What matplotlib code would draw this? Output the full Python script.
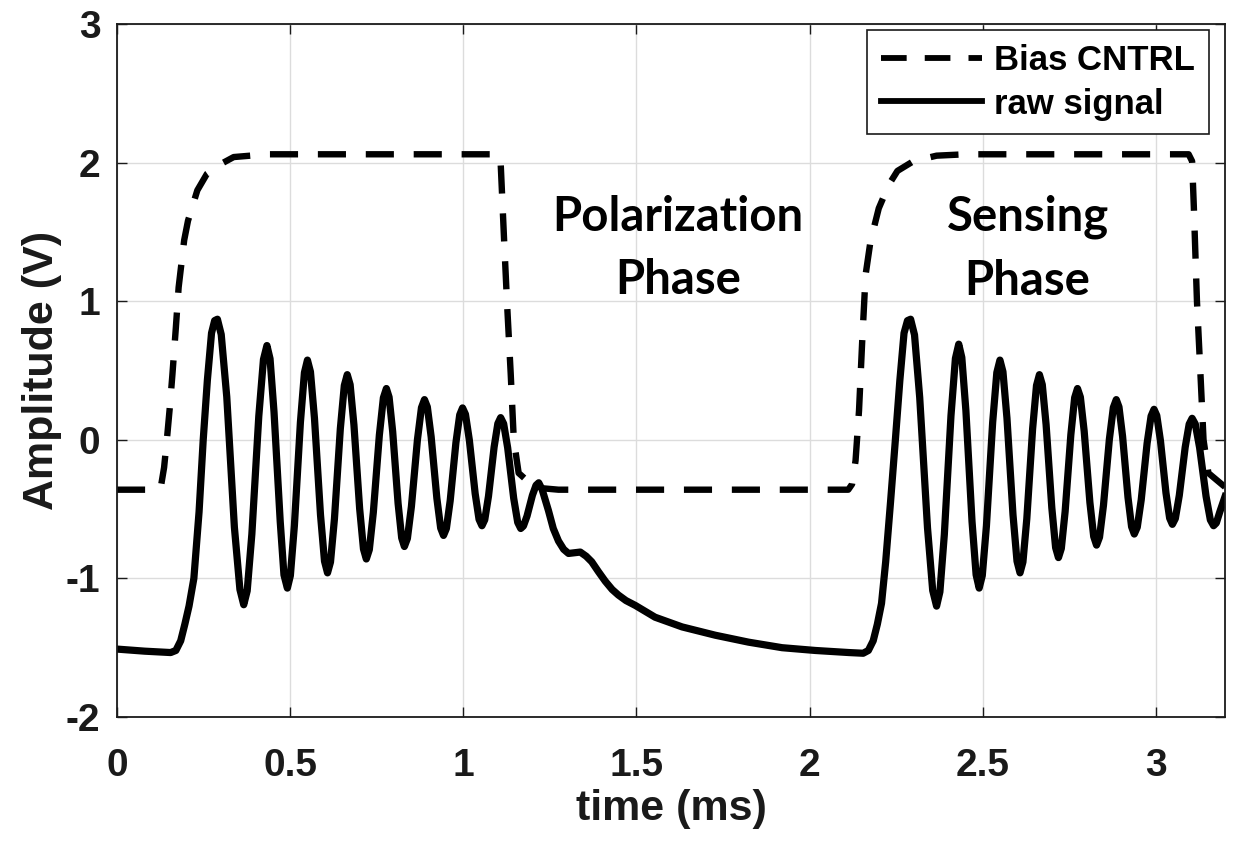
# plot.py
# Señal cruda y control de bias (fases de polarización / sensado)
import matplotlib
matplotlib.use("Agg")
import matplotlib.pyplot as plt
from matplotlib.ticker import FixedLocator, FixedFormatter

# --- datos (t en ms, v en V) ---
raw_t = [0.000, 0.080, 0.155, 0.170, 0.184, 0.196, 0.208, 0.222, 0.237, 0.249,
         0.261, 0.273, 0.282, 0.290,
         0.301, 0.317, 0.328, 0.339, 0.355, 0.366,
         0.376, 0.3895, 0.3995, 0.4095, 0.423, 0.433,
         0.442, 0.4535, 0.4625, 0.4714, 0.4822, 0.492,
         0.5007, 0.5123, 0.521, 0.5297, 0.5413, 0.550,
         0.5587, 0.5703, 0.579, 0.5877, 0.5993, 0.608,
         0.6166, 0.628, 0.6365, 0.645, 0.6565, 0.665,
         0.6733, 0.6843, 0.6925, 0.7008, 0.7118, 0.720,
         0.7287, 0.7403, 0.749, 0.7577, 0.7693, 0.778,
         0.7858, 0.7962, 0.804, 0.8118, 0.8222, 0.830,
         0.8387, 0.8503, 0.859, 0.8677, 0.8793, 0.888,
         0.8963, 0.9073, 0.9155, 0.9238, 0.9348, 0.943,
         0.9513, 0.9623, 0.9705, 0.9788, 0.9898, 0.998,
         1.0064, 1.0176, 1.026, 1.0344, 1.0456, 1.054,
         1.0621, 1.0729, 1.081, 1.0891, 1.0999, 1.108,
         1.1167, 1.1283, 1.137, 1.1457, 1.1573, 1.166,
         1.1738, 1.1842, 1.192, 1.1998, 1.2102, 1.218,
         1.228, 1.246, 1.260, 1.275, 1.290, 1.304, 1.320, 1.338, 1.355, 1.371,
         1.390, 1.410, 1.430, 1.448, 1.470, 1.497, 1.554, 1.632, 1.728, 1.824,
         1.921, 2.017, 2.114, 2.155, 2.170, 2.184, 2.196, 2.208, 2.220, 2.234,
         2.248, 2.261, 2.273, 2.283, 2.292,
         2.3033, 2.3183, 2.3295, 2.3408, 2.3558, 2.367,
         2.3766, 2.3894, 2.399, 2.4086, 2.4214, 2.431,
         2.4399, 2.4517, 2.4605, 2.4694, 2.4812, 2.490,
         2.499, 2.511, 2.520, 2.529, 2.541, 2.550,
         2.5587, 2.5703, 2.579, 2.5877, 2.5993, 2.608,
         2.6164, 2.6276, 2.636, 2.6444, 2.6556, 2.664,
         2.6723, 2.6833, 2.6915, 2.6998, 2.7108, 2.719,
         2.7273, 2.7383, 2.7465, 2.7548, 2.7658, 2.774,
         2.7823, 2.7933, 2.8015, 2.8098, 2.8208, 2.829,
         2.8376, 2.849, 2.8575, 2.866, 2.8775, 2.886,
         2.8938, 2.9042, 2.912, 2.9198, 2.9302, 2.938,
         2.9466, 2.958, 2.9665, 2.975, 2.9865, 2.995,
         3.003, 3.0136, 3.0215, 3.0295, 3.0401, 3.048,
         3.0566, 3.068, 3.0765, 3.085, 3.0965, 3.105,
         3.1143, 3.1267, 3.136, 3.1453, 3.1577, 3.167,
         3.175, 3.185, 3.193, 3.200]
raw_v = [-1.51, -1.525, -1.535, -1.52, -1.45, -1.33, -1.20, -1.00, -0.52, 0.00,
         0.43, 0.77, 0.86, 0.87,
         0.76, 0.31, -0.16, -0.63, -1.08, -1.19,
         -1.09, -0.68, -0.255, 0.17, 0.58, 0.68,
         0.585, 0.20, -0.195, -0.59, -0.975, -1.07,
         -0.98, -0.62, -0.248, 0.126, 0.485, 0.575,
         0.491, 0.156, -0.193, -0.541, -0.876, -0.96,
         -0.882, -0.570, -0.245, 0.080, 0.392, 0.47,
         0.398, 0.107, -0.195, -0.497, -0.788, -0.86,
         -0.793, -0.524, -0.245, 0.034, 0.303, 0.37,
         0.308, 0.059, -0.20, -0.459, -0.708, -0.77,
         -0.712, -0.481, -0.24, 0.001, 0.232, 0.29,
         0.237, 0.022, -0.20, -0.422, -0.637, -0.69,
         -0.640, -0.439, -0.23, -0.021, 0.180, 0.23,
         0.184, -0.002, -0.195, -0.388, -0.574, -0.62,
         -0.577, -0.407, -0.23, -0.053, 0.117, 0.16,
         0.116, -0.058, -0.24, -0.422, -0.596, -0.64,
         -0.622, -0.550, -0.475, -0.40, -0.328, -0.31,
         -0.36, -0.51, -0.64, -0.73, -0.79, -0.82, -0.815, -0.81, -0.84, -0.88,
         -0.95, -1.02, -1.08, -1.12, -1.16, -1.195, -1.28, -1.35, -1.41, -1.46,
         -1.50, -1.52, -1.535, -1.54, -1.52, -1.45, -1.33, -1.18, -0.88, -0.45,
         0.00, 0.43, 0.77, 0.86, 0.87,
         0.757, 0.305, -0.165, -0.635, -1.087, -1.20,
         -1.097, -0.684, -0.255, 0.174, 0.587, 0.69,
         0.594, 0.210, -0.19, -0.590, -0.974, -1.07,
         -0.98, -0.621, -0.248, 0.126, 0.485, 0.575,
         0.491, 0.156, -0.193, -0.541, -0.876, -0.96,
         -0.882, -0.570, -0.245, 0.080, 0.392, 0.47,
         0.398, 0.110, -0.19, -0.490, -0.778, -0.85,
         -0.784, -0.517, -0.24, 0.037, 0.304, 0.37,
         0.308, 0.062, -0.195, -0.452, -0.698, -0.76,
         -0.703, -0.473, -0.235, 0.003, 0.233, 0.29,
         0.237, 0.025, -0.195, -0.415, -0.627, -0.68,
         -0.631, -0.434, -0.23, -0.026, 0.171, 0.22,
         0.175, -0.007, -0.195, -0.383, -0.565, -0.61,
         -0.568, -0.401, -0.228, -0.054, 0.113, 0.155,
         0.113, -0.057, -0.233, -0.408, -0.578, -0.62,
         -0.60, -0.52, -0.46, -0.41]

bias_t = [0.000, 0.118, 0.128, 0.136, 0.144, 0.152, 0.160, 0.170, 0.178, 0.194,
          0.205, 0.232, 0.260, 0.300, 0.337, 0.433, 1.100, 1.108, 1.118, 1.127,
          1.137, 1.146, 1.160, 1.207, 1.275, 2.112, 2.123, 2.133, 2.143, 2.152,
          2.162, 2.176, 2.200, 2.229, 2.254, 2.300, 2.367, 2.450, 3.095, 3.105,
          3.110, 3.119, 3.129, 3.138, 3.152, 3.195, 3.200]
bias_v = [-0.36, -0.36, -0.32, -0.20, 0.00, 0.22, 0.47, 0.81, 1.10, 1.44,
          1.58, 1.80, 1.92, 1.99, 2.04, 2.06, 2.06, 2.00, 1.44, 0.96,
          0.48, 0.00, -0.24, -0.345, -0.36, -0.36, -0.32, -0.15, 0.21, 0.70,
          1.19, 1.43, 1.67, 1.84, 1.94, 2.01, 2.05, 2.06, 2.06, 2.01,
          1.68, 1.00, 0.48, 0.00, -0.24, -0.33, -0.34]

xticks = [0, 0.5, 1, 1.5, 2, 2.5, 3]
xtick_labels = ["0", "0.5", "1", "1.5", "2", "2.5", "3"]
yticks = [-2, -1, 0, 1, 2, 3]
ytick_labels = ["-2", "-1", "0", "1", "2", "3"]

phase_labels = ["Polarization\nPhase", "Sensing\nPhase"]
phase_x = [1.62, 2.63]
phase_y = [1.38, 1.38]

# --- figura ---
TXT = "#1a1a1a"
fig = plt.figure(figsize=(12.33, 8.48), dpi=100)
ax = fig.add_axes([117 / 1233, 1 - 717 / 848, 1108 / 1233, 693 / 848])

ax.plot(bias_t, bias_v, color="black", lw=4.6, dashes=(4.4, 3.1),
        label="Bias CNTRL")
ax.plot(raw_t, raw_v, color="black", lw=5.2, label="raw signal",
        solid_joinstyle="round")

for lab, x, y in zip(phase_labels, phase_x, phase_y):
    ax.text(x, y, lab, ha="center", va="center", fontsize=34,
            fontweight="bold", family="Lato", color="black", linespacing=1.55)

ax.set_xlim(0, 3.2)
ax.set_ylim(-2, 3)
ax.xaxis.set_major_locator(FixedLocator(xticks))
ax.xaxis.set_major_formatter(FixedFormatter(xtick_labels))
ax.yaxis.set_major_locator(FixedLocator(yticks))
ax.yaxis.set_major_formatter(FixedFormatter(ytick_labels))

ax.grid(True, color="#dcdcdc", lw=1.0)
ax.set_axisbelow(True)
ax.tick_params(direction="in", length=7, width=1.0, top=True, right=True,
               labelsize=28, colors=TXT)
ax.tick_params(axis="x", pad=22)
ax.tick_params(axis="y", pad=12)
for lab in ax.get_xticklabels() + ax.get_yticklabels():
    lab.set_fontweight("bold")
    lab.set_family("Liberation Sans")
for sp in ax.spines.values():
    sp.set_linewidth(1.3)
    sp.set_color(TXT)

ax.set_xlabel("time (ms)", fontsize=31, fontweight="bold",
              family="Liberation Sans", color=TXT, labelpad=4)
ax.set_ylabel("Amplitude (V)", fontsize=31, fontweight="bold",
              family="Liberation Sans", color=TXT, labelpad=3)

leg = ax.legend(loc="upper right", bbox_to_anchor=(0.9855, 0.991),
                borderaxespad=0.0, handlelength=2.9, handletextpad=0.35,
                fancybox=False, framealpha=1.0, edgecolor=TXT, borderpad=0.4,
                labelspacing=0.3,
                prop={"family": "Liberation Sans", "weight": "bold", "size": 25})
leg.get_frame().set_linewidth(1.2)
for h in leg.get_lines():
    h.set_linewidth(4.2)

fig.savefig("out.png", dpi=100)
